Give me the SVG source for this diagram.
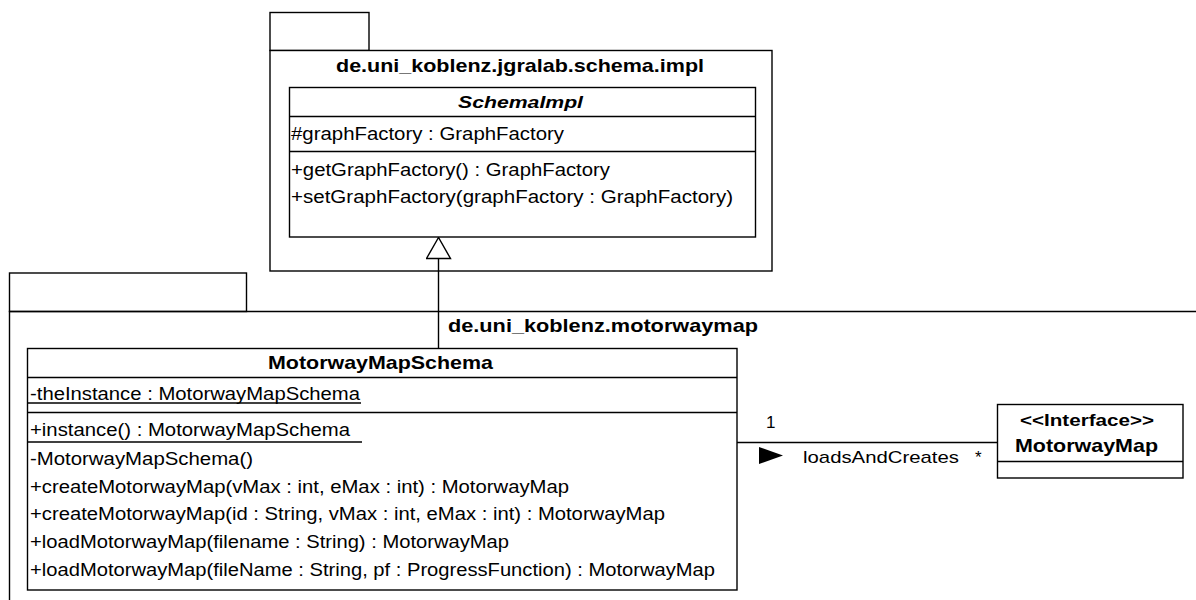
<svg xmlns="http://www.w3.org/2000/svg" width="1196" height="600" viewBox="0 0 1196 600">
  <style>
    .box { fill: #fff; stroke: #000; stroke-width: 1.4; }
    .ln { fill: none; stroke: #000; stroke-width: 1.4; }
    text { font-family: "Liberation Sans", Arial, sans-serif; fill: #000; }
    .pkg { font-size: 19px; font-weight: bold; }
    .cname { font-size: 19px; font-weight: bold; }
    .abs { font-size: 17px; font-weight: bold; font-style: italic; }
    .mem { font-size: 17.5px; }
    .lbl { font-size: 17px; }
  </style>
  <defs>
    <!-- hollow triangle for generalization, tip at the path end -->
    <marker id="genArrow" viewBox="0 0 26 26" refX="25" refY="13" markerWidth="26" markerHeight="26" markerUnits="userSpaceOnUse" orient="auto">
      <path d="M25,13 L4,1 L4,25 Z" fill="#fff" stroke="#000" stroke-width="1.4"/>
    </marker>
  </defs>
  <rect width="1196" height="600" fill="#fff"/>

  <!-- package de.uni_koblenz.jgralab.schema.impl -->
  <g id="pkg-schema-impl">
    <rect class="box" x="270" y="12.5" width="99" height="38"/>
    <rect class="box" x="270" y="50.5" width="502" height="220.5"/>
    <text class="pkg" x="336" y="71.5" textLength="368" lengthAdjust="spacingAndGlyphs">de.uni_koblenz.jgralab.schema.impl</text>
  </g>

  <!-- package de.uni_koblenz.motorwaymap (extends past the right edge) -->
  <g id="pkg-motorwaymap">
    <rect class="box" x="9.5" y="273" width="237" height="38.5"/>
    <path class="ln" d="M1200,311.5 H9.5 V605"/>
    <text class="pkg" x="448" y="332" textLength="310" lengthAdjust="spacingAndGlyphs">de.uni_koblenz.motorwaymap</text>
  </g>

  <!-- abstract class SchemaImpl -->
  <g id="SchemaImpl">
    <rect class="box" x="289.5" y="87.5" width="466" height="149.5"/>
    <path class="ln" d="M289.5,116.5 H755.5 M289.5,151.5 H755.5"/>
    <text class="abs" x="458" y="108" textLength="125" lengthAdjust="spacingAndGlyphs">SchemaImpl</text>
    <text class="mem" x="291" y="140" textLength="273" lengthAdjust="spacingAndGlyphs">#graphFactory : GraphFactory</text>
    <text class="mem" x="291" y="176" textLength="319" lengthAdjust="spacingAndGlyphs">+getGraphFactory() : GraphFactory</text>
    <text class="mem" x="291" y="203" textLength="442" lengthAdjust="spacingAndGlyphs">+setGraphFactory(graphFactory : GraphFactory)</text>
  </g>

  <!-- class MotorwayMapSchema -->
  <g id="MotorwayMapSchema">
    <rect class="box" x="27.5" y="348.5" width="709.5" height="241.5"/>
    <path class="ln" d="M27.5,377.5 H737 M27.5,412.5 H737"/>
    <text class="cname" x="268" y="369" textLength="225" lengthAdjust="spacingAndGlyphs">MotorwayMapSchema</text>
    <text class="mem" x="30" y="400" textLength="330" lengthAdjust="spacingAndGlyphs">-theInstance : MotorwayMapSchema</text>
    <path class="ln" d="M28,403 H361" stroke-width="1.2"/>
    <text class="mem" x="30" y="436" textLength="320" lengthAdjust="spacingAndGlyphs">+instance() : MotorwayMapSchema</text>
    <path class="ln" d="M28,442 H362" stroke-width="1.2"/>
    <text class="mem" x="30" y="465" textLength="223" lengthAdjust="spacingAndGlyphs">-MotorwayMapSchema()</text>
    <text class="mem" x="30" y="493" textLength="539" lengthAdjust="spacingAndGlyphs">+createMotorwayMap(vMax : int, eMax : int) : MotorwayMap</text>
    <text class="mem" x="30" y="520" textLength="635" lengthAdjust="spacingAndGlyphs">+createMotorwayMap(id : String, vMax : int, eMax : int) : MotorwayMap</text>
    <text class="mem" x="30" y="548" textLength="479" lengthAdjust="spacingAndGlyphs">+loadMotorwayMap(filename : String) : MotorwayMap</text>
    <text class="mem" x="30" y="576" textLength="685" lengthAdjust="spacingAndGlyphs">+loadMotorwayMap(fileName : String, pf : ProgressFunction) : MotorwayMap</text>
  </g>

  <!-- interface MotorwayMap -->
  <g id="MotorwayMap">
    <rect class="box" x="997.5" y="404.5" width="185.5" height="73.5"/>
    <path class="ln" d="M997.5,461.5 H1183"/>
    <text class="lbl" font-weight="bold" x="1020" y="426" textLength="134" lengthAdjust="spacingAndGlyphs">&lt;&lt;Interface&gt;&gt;</text>
    <text class="cname" x="1015" y="452" textLength="143" lengthAdjust="spacingAndGlyphs">MotorwayMap</text>
  </g>

  <!-- connectors -->
  <g id="connectors">
    <!-- generalization MotorwayMapSchema -> SchemaImpl -->
    <path class="ln" d="M438.5,348.5 V237.5" marker-end="url(#genArrow)"/>
    <!-- association loadsAndCreates -->
    <path class="ln" d="M737,442.5 H997.5"/>
    <text class="lbl" x="766" y="428">1</text>
    <path d="M759,447 L783,455.5 L759,464 Z" fill="#000"/>
    <text class="lbl" x="803" y="463" textLength="156" lengthAdjust="spacingAndGlyphs">loadsAndCreates</text>
    <text class="lbl" font-size="13px" x="975" y="463">*</text>
  </g>
</svg>
